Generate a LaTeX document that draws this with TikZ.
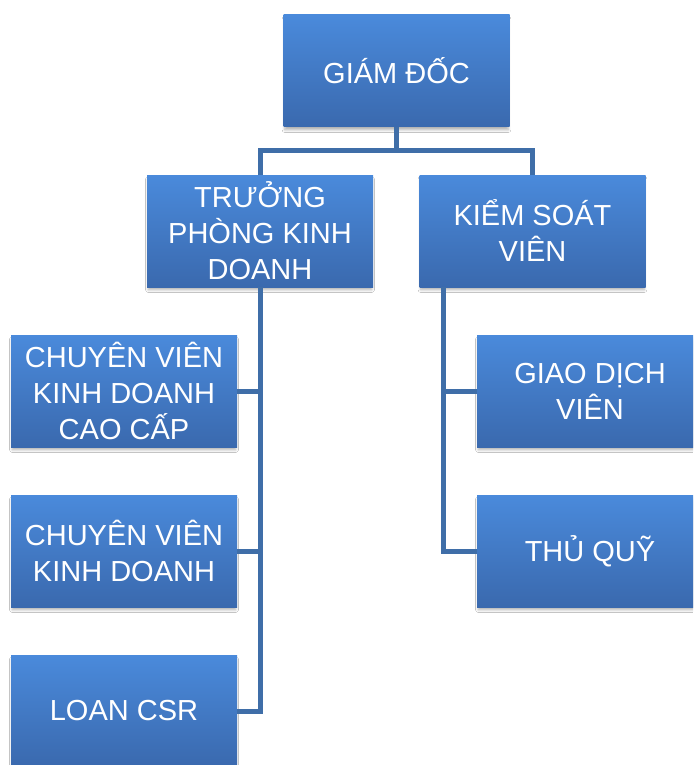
\documentclass[tikz,border=0pt]{standalone}
\usepackage{fontspec}
\setmainfont{Liberation Sans}
\usetikzlibrary{shadows.blur}
\definecolor{boxtop}{HTML}{4A8ADB}
\definecolor{boxbot}{HTML}{3A69AE}
\definecolor{conncol}{HTML}{3F6EA8}
\tikzset{
  orgbox/.style={rectangle, minimum width=226pt, minimum height=112pt, inner sep=0pt,
    top color=boxtop, bottom color=boxbot, text=white, align=center,
    font=\fontsize{29}{36}\selectfont,
    blur shadow={shadow blur steps=6, shadow xshift=0pt, shadow yshift=-3.5pt, shadow opacity=30, shadow blur radius=2.5pt, shadow scale=0.99}},
  conn/.style={draw=conncol, line width=5pt, line join=miter}
}
\begin{document}
\begin{tikzpicture}[x=1pt,y=-1pt]
\useasboundingbox (0,0) rectangle (693,765);
\clip (0,0) rectangle (693,765);
\fill[white] (0,0) rectangle (693,765);
\node[orgbox] (gd) at (396.5,71) {GIÁM ĐỐC};
\node[orgbox] (tp) at (260,231) {TRƯỞNG\\PHÒNG KINH\\DOANH};
\node[orgbox] (ks) at (532.5,231) {KIỂM SOÁT\\VIÊN};
\node[orgbox] (cv1) at (124,391) {CHUYÊN VIÊN\\KINH DOANH\\CAO CẤP};
\node[orgbox] (cv2) at (124,551) {CHUYÊN VIÊN\\KINH DOANH};
\node[orgbox] (loan) at (124,711) {LOAN CSR};
\node[orgbox] (gdv) at (590,391) {GIAO DỊCH\\VIÊN};
\node[orgbox] (tq) at (590,551) {THỦ QUỸ};
\coordinate (bus) at (396.5,150);
\coordinate (kr) at (443,287);
\draw[conn] (gd.south) -- (bus);
\draw[conn] (tp.north) |- (bus) -| (ks.north);
\draw[conn] (tp.south) |- (loan.east);
\draw[conn] (tp.south) |- (cv1.east);
\draw[conn] (tp.south) |- (cv2.east);
\draw[conn] (kr) |- (tq.west);
\draw[conn] (kr) |- (gdv.west);
\end{tikzpicture}
\end{document}
